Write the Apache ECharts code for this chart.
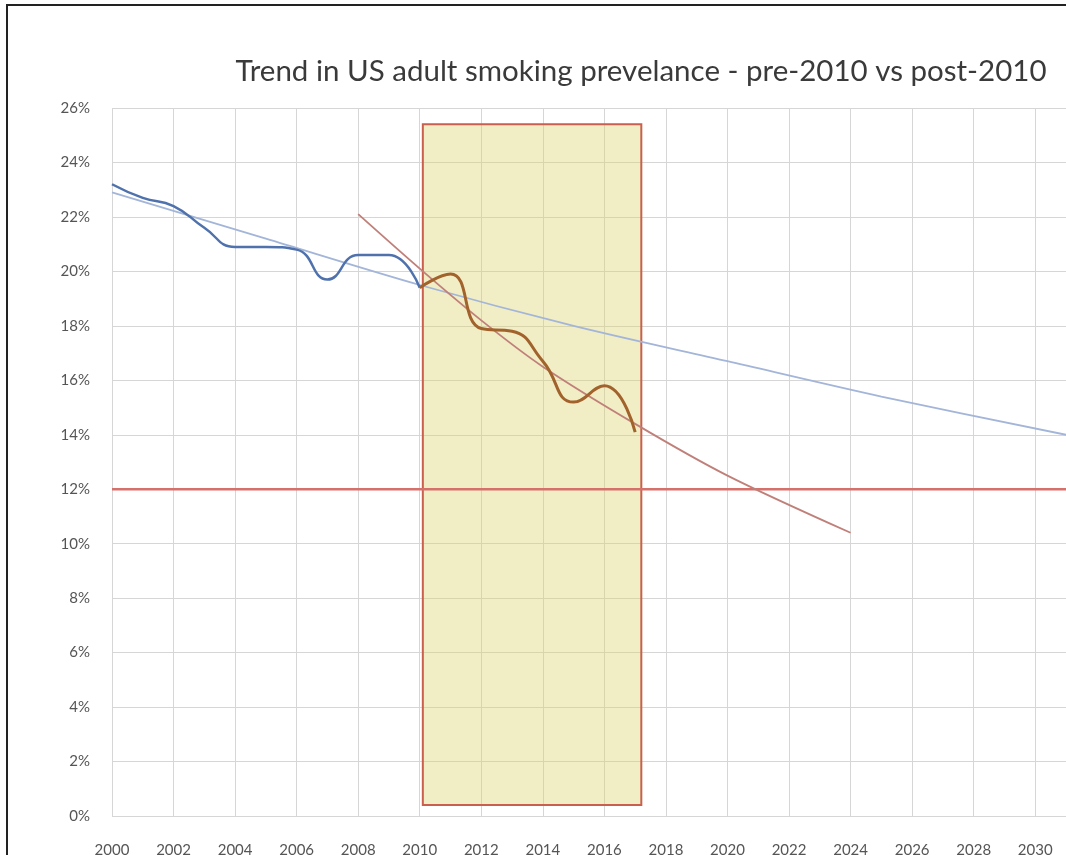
<!DOCTYPE html>
<html>
<head>
<meta charset="utf-8">
<script src="https://cdn.jsdelivr.net/npm/echarts@6/dist/echarts.min.js"></script>
<style>
  html, body { margin: 0; padding: 0; background: #fff; }
  .frame {
    position: absolute;
    left: 6px;
    top: 4px;
    width: 1066px;
    height: 860px;
    border-left: 2px solid #222;
    border-top: 2px solid #222;
  }
  #chart { position: absolute; left: 0; top: 0; width: 1066px; height: 855px; }
</style>
</head>
<body>
<div id="chart"></div>
<div class="frame"></div>
<script>
// smoking prevalence (%)
const preYears = [2000, 2001, 2002, 2003, 2004, 2005, 2006, 2007, 2008, 2009, 2010]
const preValues = [23.2, 22.7, 22.4, 21.6, 20.9, 20.9, 20.8, 19.7, 20.6, 20.6, 19.4]

const postYears = [2010, 2011, 2012, 2013, 2014, 2015, 2016, 2017]
const postValues = [19.4, 19.9, 17.9, 17.8, 16.7, 15.2, 15.8, 14.1]

// trend lines, points
const preTrendYears = [2000, 2005, 2010, 2015, 2020, 2025, 2031]
const preTrendValues = [22.9, 21.2, 19.5, 18.0, 16.7, 15.4, 14.0]

const postTrendYears = [2008, 2010, 2012, 2014, 2017, 2020, 2024]
const postTrendValues = [22.1, 20.1, 18.2, 16.5, 14.4, 12.5, 10.4]

const targetYears = [2000, 2031]
const targetValues = [12, 12]

// highlighted window (post-2010)
const boxYears = [2010.1, 2017.2]
const boxValues = [25.4, 0.4]

const pairs = (xs, ys) => xs.map((x, i) => [x, ys[i]])

const chart = echarts.init(document.getElementById('chart'))
chart.setOption({
  backgroundColor: '#fff',
  animation: false,
  title: {
    text: 'Trend in US adult smoking prevelance - pre-2010 vs post-2010',
    left: 636,
    top: 51,
    textAlign: 'center',
    textStyle: {
      fontFamily: 'Lato',
      fontSize: 29.5,
      fontWeight: 'normal',
      color: '#3a3a3a',
    },
  },
  grid: { left: 112, right: 0, top: 108, bottom: 39, outerBoundsMode: 'none' },
  xAxis: {
    type: 'value',
    min: 2000,
    max: 2031,
    interval: 2,
    axisLine: { show: false },
    axisTick: { show: false },
    axisLabel: {
      margin: 27,
      fontFamily: 'Lato',
      fontSize: 15,
      color: '#555',
      showMaxLabel: false,
      formatter: (v) => String(v),
    },
    splitLine: { lineStyle: { color: '#d6d6d6', width: 1 } },
  },
  yAxis: {
    type: 'value',
    min: 0,
    max: 26,
    interval: 2,
    axisLine: { show: false },
    axisTick: { show: false },
    axisLabel: {
      margin: 22,
      fontFamily: 'Lato',
      fontSize: 15,
      color: '#555',
      formatter: '{value}%',
    },
    splitLine: { lineStyle: { color: '#d6d6d6', width: 1 } },
  },
  series: [
    {
      name: 'window',
      type: 'line',
      data: [],
      silent: true,
      markArea: {
        silent: true,
        itemStyle: {
          color: 'rgba(220, 210, 110, 0.4)',
          borderColor: '#c95f4c',
          borderWidth: 2,
        },
        data: [[
          { coord: [boxYears[0], boxValues[0]] },
          { coord: [boxYears[1], boxValues[1]] },
        ]],
      },
    },
    {
      name: 'target',
      type: 'line',
      data: pairs(targetYears, targetValues),
      symbol: 'none',
      lineStyle: { color: '#d6706a', width: 2.5 },
    },
    {
      name: 'pre trend',
      type: 'line',
      data: pairs(preTrendYears, preTrendValues),
      symbol: 'none',
      smooth: 0.3,
      lineStyle: { color: '#a3b5d8', width: 1.8 },
    },
    {
      name: 'post trend',
      type: 'line',
      data: pairs(postTrendYears, postTrendValues),
      symbol: 'none',
      smooth: 0.3,
      lineStyle: { color: '#c0807a', width: 1.8 },
    },
    {
      name: 'pre-2010',
      type: 'line',
      data: pairs(preYears, preValues),
      symbol: 'none',
      smooth: 0.5,
      lineStyle: { color: '#4f72ad', width: 2.5 },
    },
    {
      name: 'post-2010',
      type: 'line',
      data: pairs(postYears, postValues),
      symbol: 'none',
      smooth: 0.5,
      lineStyle: { color: '#a2622c', width: 3 },
    },
  ],
})
</script>
</body>
</html>
